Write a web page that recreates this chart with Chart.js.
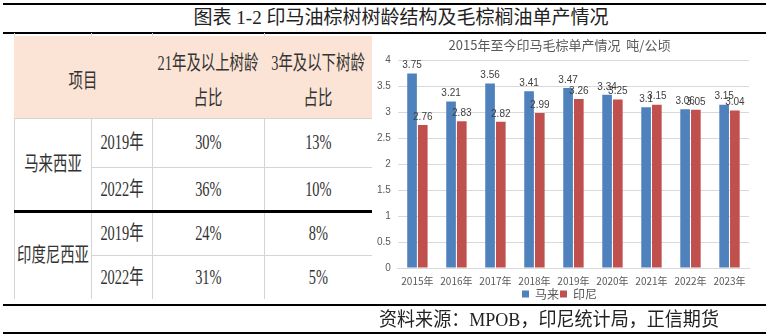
<!DOCTYPE html>
<html>
<head>
<meta charset="utf-8">
<script src="https://cdn.jsdelivr.net/npm/chart.js@4.4.1/dist/chart.umd.min.js"></script>
<style>
  html, body { margin: 0; padding: 0; background: #fff; }
  body { width: 768px; height: 336px; position: relative; overflow: hidden;
         font-family: "Liberation Serif", "Noto Sans CJK SC", serif; color: #222; }
  .rule { position: absolute; left: 3px; width: 763px; background: #000; }
  #title { position: absolute; left: 17px; width: 768px; top: 6px; text-align: center;
           font-size: 19px; line-height: 24px; }
  #source { position: absolute; left: 379px; top: 307px; font-size: 19px; line-height: 26px;
            transform: scaleX(0.95); transform-origin: left center; white-space: nowrap; }
  #tbl { position: absolute; left: 0; top: 0; }
  .cell { position: absolute; box-sizing: border-box; display: flex; align-items: center;
          justify-content: center; text-align: center; color: #333; }
  .cell span { display: inline-block; font-size: 20px; line-height: 35px; transform: scaleX(0.72);
               white-space: nowrap; }
  .head { padding-top: 8px; }
  .hline { position: absolute; height: 1px; background: #d4d4d4; }
  .vline { position: absolute; width: 1px; background: #d4d4d4; }
  #chartBox { position: absolute; left: 368px; top: 34px; width: 400px; height: 276px; }
</style>
</head>
<body>
<div class="rule" style="top:3px;height:2px"></div>
<div id="title">图表 1-2 印马油棕树树龄结构及毛棕榈油单产情况</div>
<div class="rule" style="top:32px;height:2px"></div>

<div id="tbl"></div>

<div id="chartBox"><canvas id="myChart"></canvas></div>

<div class="rule" style="top:304px;height:2px"></div>
<div id="source">资料来源：MPOB，印尼统计局，正信期货</div>
<div class="rule" style="top:332px;height:2px"></div>

<script>
// 树龄结构表
const regions = ['马来西亚', '印度尼西亚'];
const tableYears = ['2019年', '2022年'];
const oldTreeShare = [['30%', '36%'], ['24%', '31%']];
const youngTreeShare = [['13%', '10%'], ['8%', '5%']];
const tableHeads = ['项目', '21年及以上树龄<br>占比', '3年及以下树龄<br>占比'];

// 单产柱状图
const years = ['2015年', '2016年', '2017年', '2018年', '2019年', '2020年', '2021年', '2022年', '2023年'];
const malaysia = [3.75, 3.21, 3.56, 3.41, 3.47, 3.34, 3.1, 3.06, 3.15];
const indonesia = [2.76, 2.83, 2.82, 2.99, 3.26, 3.25, 3.15, 3.05, 3.04];

// 表格
const tbl = document.getElementById('tbl');
const colX = [14, 91, 152, 264, 372];
const headTop = 36, headBottom = 118;
const rowY = [118, 167, 211, 255, 299];

function addCell(x1, y1, x2, y2, html, bg, cls) {
    const d = document.createElement('div');
    d.className = 'cell' + (cls ? ' ' + cls : '');
    d.style.left = x1 + 'px';
    d.style.top = y1 + 'px';
    d.style.width = (x2 - x1) + 'px';
    d.style.height = (y2 - y1) + 'px';
    if (bg) d.style.background = bg;
    d.innerHTML = '<span>' + html + '</span>';
    tbl.appendChild(d);
}
function addLine(cls, x, y, len) {
    const d = document.createElement('div');
    d.className = cls;
    d.style.left = x + 'px';
    d.style.top = y + 'px';
    if (cls === 'hline') d.style.width = len + 'px'; else d.style.height = len + 'px';
    tbl.appendChild(d);
}

// 表头
addCell(colX[0], headTop, colX[4], headBottom, '', '#fbe4d5');
addCell(colX[0], headTop, colX[2], headBottom, tableHeads[0], null, 'head');
addCell(colX[2], headTop, colX[3], headBottom, tableHeads[1], null, 'head');
addCell(colX[3], headTop, colX[4], headBottom, tableHeads[2], null, 'head');

// 数据行
regions.forEach((r, i) => {
    addCell(colX[0], rowY[i * 2], colX[1], rowY[i * 2 + 2], r);
    tableYears.forEach((y, j) => {
        const top = rowY[i * 2 + j], bot = rowY[i * 2 + j + 1];
        addCell(colX[1], top, colX[2], bot, y);
        addCell(colX[2], top, colX[3], bot, oldTreeShare[i][j]);
        addCell(colX[3], top, colX[4], bot, youngTreeShare[i][j]);
    });
});

// 网格线
[14, 91, 152, 264].forEach(x => {
    addLine('vline', x, 33, 3);
    addLine('vline', x, headBottom, rowY[4] - headBottom);
});
addLine('hline', colX[0], headBottom, colX[4] - colX[0]);
addLine('hline', colX[1], rowY[1], colX[4] - colX[1]);
addLine('hline', colX[1], rowY[3], colX[4] - colX[1]);
const thick = document.createElement('div');
thick.style.cssText = 'position:absolute;left:14px;width:358px;top:210px;height:3px;background:#000';
tbl.appendChild(thick);

// 柱顶数值
const barValues = {
    id: 'barValues',
    afterDatasetsDraw(chart) {
        const ctx = chart.ctx;
        ctx.save();
        ctx.font = '10px "Liberation Sans", "Noto Sans CJK SC", sans-serif';
        ctx.fillStyle = '#404040';
        ctx.textAlign = 'center';
        ctx.textBaseline = 'bottom';
        chart.data.datasets.forEach((ds, i) => {
            chart.getDatasetMeta(i).data.forEach((bar, j) => {
                ctx.fillText(ds.data[j], bar.x, bar.y - 3);
            });
        });
        ctx.restore();
    }
};

const ctx = document.getElementById('myChart').getContext('2d');
const myChart = new Chart(ctx, {
    type: 'bar',
    data: {
        labels: years,
        datasets: [
        {
            label: '马来',
            data: malaysia,
            backgroundColor: '#4f81bd',
            categoryPercentage: 0.55,
            barPercentage: 0.9
        },
        {
            label: '印尼',
            data: indonesia,
            backgroundColor: '#c0504d',
            categoryPercentage: 0.55,
            barPercentage: 0.9
        }
        ]
    },
    options: {
        responsive: true,
        maintainAspectRatio: false,
        animation: false,
        layout: { padding: { left: 2, right: 19, top: 0, bottom: 0 } },
        plugins: {
            title: {
                display: true,
                text: '2015年至今印马毛棕单产情况  吨/公顷',
                color: '#595959',
                font: { size: 13, family: '"Noto Sans CJK SC", sans-serif', weight: 'normal' },
                padding: { top: 3, bottom: 8 }
            },
            legend: {
                position: 'bottom',
                labels: {
                    boxWidth: 7,
                    boxHeight: 7,
                    padding: 1,
                    color: '#595959',
                    font: { size: 12, family: '"Noto Sans CJK SC", sans-serif', lineHeight: 1.1 }
                }
            },
            tooltip: { enabled: false }
        },
        scales: {
            x: {
                grid: { display: false },
                border: { color: '#d9d9d9' },
                ticks: {
                    color: '#595959',
                    padding: 0,
                    minRotation: 0,
                    maxRotation: 0,
                    autoSkip: false,
                    font: { size: 10, family: '"Noto Sans CJK SC", sans-serif', lineHeight: 1.1 }
                }
            },
            y: {
                min: 0,
                max: 4,
                ticks: {
                    stepSize: 0.5,
                    padding: 7,
                    color: '#595959',
                    font: { size: 10, family: '"Liberation Sans", sans-serif' },
                    callback: v => String(v)
                },
                grid: { color: '#d9d9d9', drawTicks: false },
                border: { display: false }
            }
        }
    },
    plugins: [barValues]
});
</script>
</body>
</html>
